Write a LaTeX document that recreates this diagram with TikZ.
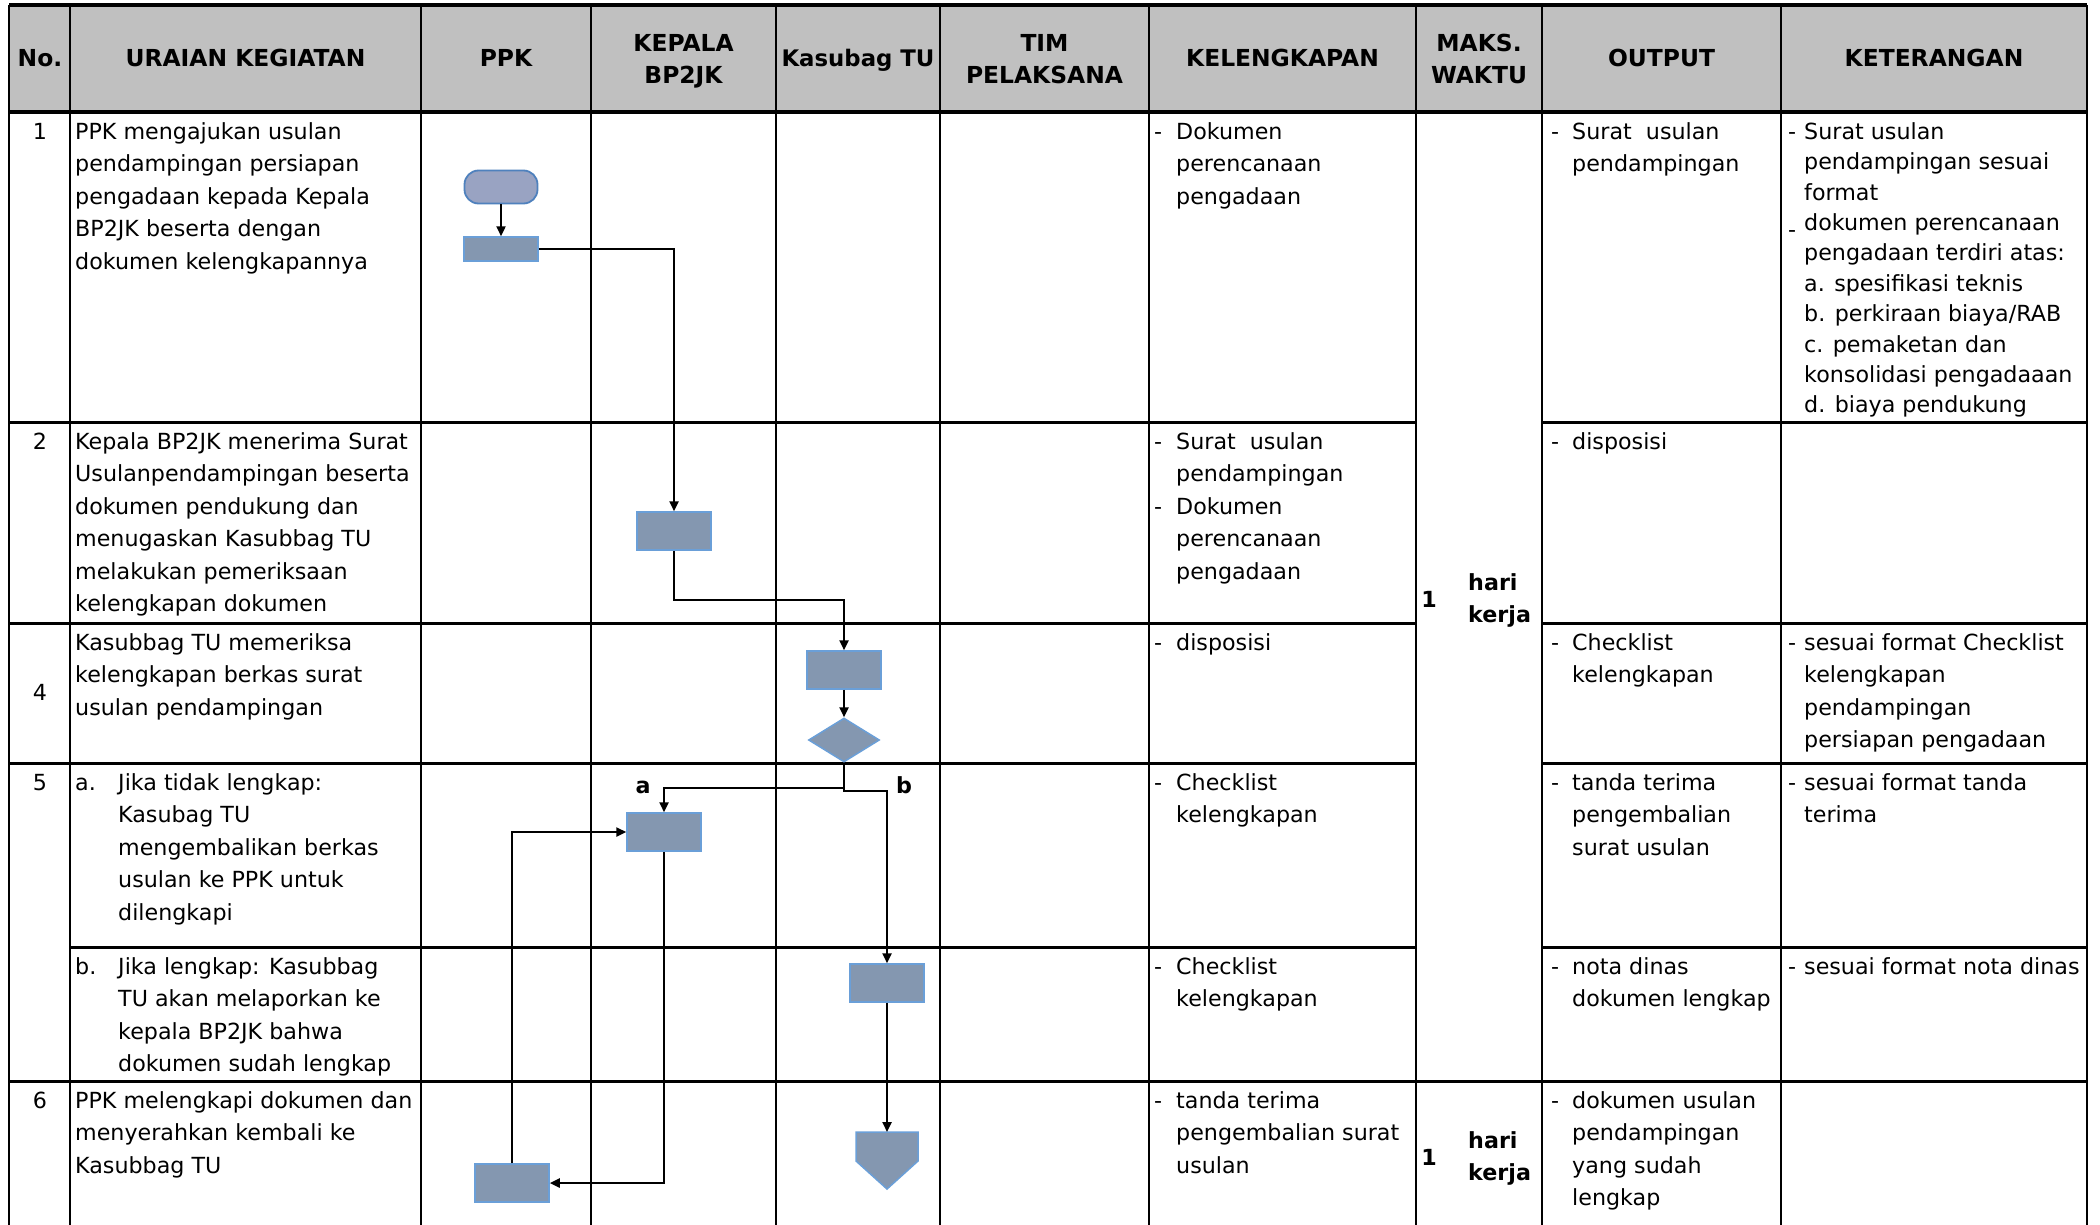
\documentclass[tikz,border=0pt]{standalone}
\usepackage{fontspec}
\setmainfont{DejaVu Sans}
\usetikzlibrary{arrows.meta,shapes.geometric}
\definecolor{hdr}{HTML}{C0C0C0}
\definecolor{boxfill}{HTML}{8497B0}
\definecolor{boxline}{HTML}{6A9FD8}
\definecolor{termfill}{HTML}{99A3C2}
\definecolor{termline}{HTML}{4F81BD}
\newcommand\fl{\rule{0pt}{20pt}}
\newcommand\dsh[1]{\makebox[#1][l]{-}}
\newcommand\ind[1]{\hspace*{#1}}
\begin{document}
\begin{tikzpicture}[x=1pt,y=-1pt,
  txt/.style={anchor=north west, align=left, inner sep=0pt, font=\fontsize{22.2}{32.5}\selectfont},
  txtb/.style={txt, font=\fontsize{22.2}{32}\selectfont\bfseries},
  num/.style={anchor=north, inner sep=0pt, font=\fontsize{22.2}{32.5}\selectfont},
  hd/.style={anchor=north, align=center, inner sep=0pt, font=\fontsize{23.4}{32}\selectfont\bfseries},
  lbl/.style={anchor=base, inner sep=0pt, font=\fontsize{22.2}{32}\selectfont\bfseries},
  proc/.style={draw=boxline, fill=boxfill, line width=1.5pt, minimum width=74pt, minimum height=38pt, inner sep=0pt},
  conn/.style={line width=2.3pt, -{Triangle[length=10pt,width=9pt]}},
  link/.style={line width=2.3pt},
  vline/.style={line width=1.8pt},
  hline/.style={line width=3pt},
]
\fill[white] (0,0) rectangle (2100,1225);
\useasboundingbox (0,0) rectangle (2100,1225);
% header background
\fill[hdr] (9,5) rectangle (2087,112);
% vertical lines
\foreach \x in {9,70,421,591,776,940,1149,1416,1542,1781,2087}
  \draw[vline] (\x,5) -- (\x,1225);
% horizontal lines
\draw[line width=3.5pt] (9,5) -- (2087,5);
\draw[line width=4.5pt] (9,112) -- (2087,112);
\foreach \y in {422,623,763}{
  \draw[hline] (9,\y) -- (1416,\y);
  \draw[hline] (1542,\y) -- (2087,\y);
}
\draw[hline] (70,947) -- (1416,947);
\draw[hline] (1542,947) -- (2087,947);
\draw[hline] (9,1081) -- (2087,1081);
% headers
\node[hd] (hNo) at (40,46) {\fl No.};
\node[hd] (hUr) at (245.5,46) {\fl URAIAN KEGIATAN};
\node[hd] (hPPK) at (506,46) {\fl PPK};
\node[hd] (hKep) at (683.5,31) {\fl KEPALA\\BP2JK};
\node[hd, font=\fontsize{22.8}{32}\selectfont\bfseries] (hKas) at (858,46) {\fl Kasubag TU};
\node[hd] (hTim) at (1044.5,31) {\fl TIM\\PELAKSANA};
\node[hd] (hKel) at (1282.5,46) {\fl KELENGKAPAN};
\node[hd] (hMak) at (1479,31) {\fl MAKS.\\WAKTU};
\node[hd] (hOut) at (1661.5,46) {\fl OUTPUT};
\node[hd] (hKet) at (1934,46) {\fl KETERANGAN};
% numbers
\node[num] (n1) at (40,119) {\fl 1};
\node[num] (n2) at (40,429) {\fl 2};
\node[num] (n4) at (40,680) {\fl 4};
\node[num] (n5) at (40,770) {\fl 5};
\node[num] (n6) at (40,1088) {\fl 6};
% uraian
\node[txt] (u1) at (75,119) {\fl PPK mengajukan usulan\\pendampingan persiapan\\pengadaan kepada Kepala\\BP2JK beserta dengan\\dokumen kelengkapannya};
\node[txt] (u2) at (75,429) {\fl Kepala BP2JK menerima Surat\\Usulanpendampingan beserta\\dokumen pendukung dan\\menugaskan Kasubbag TU\\melakukan pemeriksaan\\kelengkapan dokumen};
\node[txt] (u4) at (75,630) {\fl Kasubbag TU memeriksa\\kelengkapan berkas surat\\usulan pendampingan};
\node[txt] (u5a) at (75,770) {\fl\makebox[43pt][l]{a.}Jika tidak lengkap:\\\ind{43pt}Kasubag TU\\\ind{43pt}mengembalikan berkas\\\ind{43pt}usulan ke PPK untuk\\\ind{43pt}dilengkapi};
\node[txt] (u5b) at (75,954) {\fl\makebox[43pt][l]{b.}Jika lengkap: Kasubbag\\\ind{43pt}TU akan melaporkan ke\\\ind{43pt}kepala BP2JK bahwa\\\ind{43pt}dokumen sudah lengkap};
\node[txt] (u6) at (75,1088) {\fl PPK melengkapi dokumen dan\\menyerahkan kembali ke\\Kasubbag TU};
% kelengkapan
\node[txt] (k1) at (1154,119) {\fl\dsh{22pt}Dokumen\\\ind{22pt}perencanaan\\\ind{22pt}pengadaan};
\node[txt] (k2) at (1154,429) {\fl\dsh{22pt}Surat\ \ usulan\\\ind{22pt}pendampingan\\\dsh{22pt}Dokumen\\\ind{22pt}perencanaan\\\ind{22pt}pengadaan};
\node[txt] (k4) at (1154,630) {\fl\dsh{22pt}disposisi};
\node[txt] (k5a) at (1154,770) {\fl\dsh{22pt}Checklist\\\ind{22pt}kelengkapan};
\node[txt] (k5b) at (1154,954) {\fl\dsh{22pt}Checklist\\\ind{22pt}kelengkapan};
\node[txt] (k6) at (1154,1088) {\fl\dsh{22pt}tanda terima\\\ind{22pt}pengembalian surat\\\ind{22pt}usulan};
% maks waktu
\node[txtb] (m1) at (1468,570) {\fl hari\\kerja};
\node[num, font=\fontsize{22.2}{32}\selectfont\bfseries] (m1n) at (1429,587) {\fl 1};
\node[txtb] (m2) at (1468,1128) {\fl hari\\kerja};
\node[num, font=\fontsize{22.2}{32}\selectfont\bfseries] (m2n) at (1429,1145) {\fl 1};
% output
\node[txt] (o1) at (1551,119) {\fl\dsh{21pt}Surat\ \ usulan\\\ind{21pt}pendampingan};
\node[txt] (o2) at (1551,429) {\fl\dsh{21pt}disposisi};
\node[txt] (o4) at (1551,630) {\fl\dsh{21pt}Checklist\\\ind{21pt}kelengkapan};
\node[txt] (o5a) at (1551,770) {\fl\dsh{21pt}tanda terima\\\ind{21pt}pengembalian\\\ind{21pt}surat usulan};
\node[txt] (o5b) at (1551,954) {\fl\dsh{21pt}nota dinas\\\ind{21pt}dokumen lengkap};
\node[txt] (o6) at (1551,1088) {\fl\dsh{21pt}dokumen usulan\\\ind{21pt}pendampingan\\\ind{21pt}yang sudah\\\ind{21pt}lengkap};
% keterangan
\node[txt, font=\fontsize{22.2}{30.4}\selectfont] (e1) at (1788,119) {\fl\dsh{16pt}Surat usulan\\\ind{16pt}pendampingan sesuai\\\ind{16pt}format\\\makebox[16pt][l]{\raisebox{-0.3em}{-}}dokumen perencanaan\\\ind{16pt}pengadaan terdiri atas:\\\ind{16pt}a. spesifikasi teknis\\\ind{16pt}b. perkiraan biaya/RAB\\\ind{16pt}c. pemaketan dan\\\ind{16pt}konsolidasi pengadaaan\\\ind{16pt}d. biaya pendukung};
\node[txt] (e4) at (1788,630) {\fl\dsh{16pt}sesuai format Checklist\\\ind{16pt}kelengkapan\\\ind{16pt}pendampingan\\\ind{16pt}persiapan pengadaan};
\node[txt] (e5a) at (1788,770) {\fl\dsh{16pt}sesuai format tanda\\\ind{16pt}terima};
\node[txt] (e5b) at (1788,954) {\fl\dsh{16pt}sesuai format nota dinas};
% flowchart shapes
\node[draw=termline, fill=termfill, line width=1.8pt, rounded corners=14pt, minimum width=73pt, minimum height=33pt, inner sep=0pt] (t1) at (501,187) {};
\node[proc, minimum height=24pt] (p1) at (501,249) {};
\node[proc] (p2) at (674,531) {};
\node[proc] (p3) at (844,670) {};
\node[diamond, draw=boxline, fill=boxfill, line width=1.5pt, minimum width=71pt, minimum height=44pt, aspect=1.6, inner sep=0pt] (d1) at (844,740) {};
\node[proc] (p4) at (664,832) {};
\node[proc] (p5) at (887,983) {};
\node[proc] (p6) at (512,1183) {};
\draw[draw=boxline, fill=boxfill, line width=1.5pt] (856,1132) -- (918,1132) -- (918,1161) -- (887,1189) -- (856,1161) -- cycle;
\coordinate (off) at (887,1132);
\coordinate (j1) at (844,600);
\coordinate (br) at (844,788);
\coordinate (brb) at (844,791);
% connectors
\draw[conn] (t1.south) -- (p1.north);
\draw[conn] (p1.east) -| (p2.north);
\draw[conn] (p2.south) |- (j1) -- (p3.north);
\draw[conn] (p3.south) -- (d1.north);
\draw[link] (d1.south) -- (br);
\draw[conn] (br) -| (p4.north);
\draw[conn] (br) -- (brb) -| (p5.north);
\draw[conn] (p4.south) |- (p6.east);
\draw[conn] (p6.north) |- (p4.west);
\draw[conn] (p5.south) -- (off);
\node[lbl] (la) at (643,793) {a};
\node[lbl] (lb) at (904,793) {b};
\end{tikzpicture}
\end{document}
